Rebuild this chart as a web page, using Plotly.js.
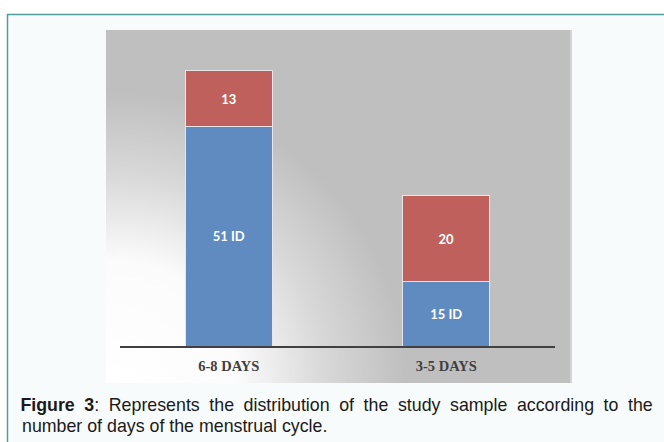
<!DOCTYPE html>
<html>
<head>
<meta charset="utf-8">
<script src="https://cdn.plot.ly/plotly-3.0.1.min.js"></script>
<style>
  html, body { margin: 0; padding: 0; background: #ffffff; }
  #chart { width: 664px; height: 442px; }
  g.annotation[data-index="0"] text { word-spacing: 4.65px; }
</style>
</head>
<body>
<div id="chart"></div>
<script>
// ---- data ----
const categories = ['6-8 DAYS', '3-5 DAYS'];
const blueValues = [51, 15];
const redValues = [13, 20];
const blueSuffix = ' ID';
const captionBold = 'Figure 3';
const captionLine1 = ': Represents the distribution of the study sample according to the';
const captionLine2 = 'number of days of the menstrual cycle.';

// ---- geometry helpers (pixel -> paper) ----
const L = 120, R = 109, T = 30, B = 96;
const W = 664, H = 442;
const pw = W - L - R, ph = H - T - B;
const px = p => (p - L) / pw;
const py = p => (H - B - p) / ph;

const gradSvg = "<svg xmlns='http://www.w3.org/2000/svg' width='466' height='353' viewBox='0 0 466 353'>" +
  "<defs><radialGradient id='g' gradientUnits='userSpaceOnUse' cx='10' cy='353' r='290'>" +
  "<stop offset='0' stop-color='#ffffff'/><stop offset='0.42' stop-color='#fbfbfb'/>" +
  "<stop offset='0.72' stop-color='#d8d8d8'/><stop offset='1' stop-color='#bfbfbf'/></radialGradient></defs>" +
  "<rect width='466' height='353' fill='url(#g)'/>" +
  "<rect x='464' y='0' width='2' height='353' fill='#d4d4d4'/></svg>";
const gradUri = 'data:image/svg+xml;charset=utf-8,' + encodeURIComponent(gradSvg);

const barFont = { family: 'Lato, "Open Sans", sans-serif', size: 13, color: '#ffffff', weight: 'bold' };

const traces = [
  {
    type: 'bar', x: categories, y: blueValues,
    text: blueValues.map(v => '<b>' + v + blueSuffix + '</b>'),
    textposition: 'inside', insidetextanchor: 'middle', textangle: 0,
    textfont: barFont,
    marker: { color: '#5f8bc1', line: { color: '#e6e6e6', width: 1 } },
    width: 0.4, hoverinfo: 'skip'
  },
  {
    type: 'bar', x: categories, y: redValues,
    text: redValues.map(v => '<b>' + v + '</b>'),
    textposition: 'inside', insidetextanchor: 'middle', textangle: 0,
    textfont: barFont,
    marker: { color: '#c0605d', line: { color: '#e6e6e6', width: 1 } },
    width: 0.4, hoverinfo: 'skip'
  }
];

const layout = {
  width: W, height: H,
  margin: { l: L, r: R, t: T, b: B, pad: 0 },
  barmode: 'stack',
  showlegend: false,
  paper_bgcolor: '#f8fbfb',
  plot_bgcolor: 'rgba(0,0,0,0)',
  xaxis: {
    type: 'category', range: [-0.5, 1.5],
    showline: true, linecolor: '#404040', linewidth: 2,
    showgrid: false, zeroline: false,
    ticks: 'outside', ticklen: 6, tickcolor: 'rgba(0,0,0,0)',
    tickfont: { family: '"Liberation Serif", "DejaVu Serif", serif', size: 14.5, color: '#404040', weight: 'bold' },
    fixedrange: true
  },
  yaxis: {
    range: [0, 73.5], visible: false, showgrid: false, zeroline: false, fixedrange: true
  },
  images: [{
    source: gradUri, xref: 'paper', yref: 'paper',
    x: px(106), y: py(30), sizex: px(572) - px(106), sizey: py(30) - py(383),
    xanchor: 'left', yanchor: 'top', sizing: 'stretch', layer: 'below'
  }],
  shapes: [
    { type: 'rect', xref: 'paper', yref: 'paper', x0: px(0), x1: px(664), y0: py(0), y1: py(14), fillcolor: '#ffffff', line: { width: 0 }, layer: 'below' },
    { type: 'rect', xref: 'paper', yref: 'paper', x0: px(0), x1: px(7), y0: py(0), y1: py(442), fillcolor: '#ffffff', line: { width: 0 }, layer: 'below' },
    { type: 'line', xref: 'paper', yref: 'paper', x0: px(7), x1: px(664), y0: py(14.5), y1: py(14.5), line: { color: '#4e9f9b', width: 1.5 }, layer: 'below' },
    { type: 'line', xref: 'paper', yref: 'paper', x0: px(7.5), x1: px(7.5), y0: py(14), y1: py(442), line: { color: '#4e9f9b', width: 1.5 }, layer: 'below' }
  ],
  annotations: [
    {
      xref: 'paper', yref: 'paper', x: px(336), y: py(405), xanchor: 'center', yanchor: 'middle',
      text: '<b>' + captionBold + '</b>' + captionLine1, showarrow: false,
      font: { family: '"Liberation Sans", Arial, sans-serif', size: 17.8, color: '#1a1a1a' }
    },
    {
      xref: 'paper', yref: 'paper', x: px(20), y: py(426), xanchor: 'left', yanchor: 'middle',
      text: captionLine2, showarrow: false,
      font: { family: '"Liberation Sans", Arial, sans-serif', size: 17.8, color: '#1a1a1a' }
    }
  ]
};

Plotly.newPlot('chart', traces, layout, { displayModeBar: false, staticPlot: true });
</script>
</body>
</html>
